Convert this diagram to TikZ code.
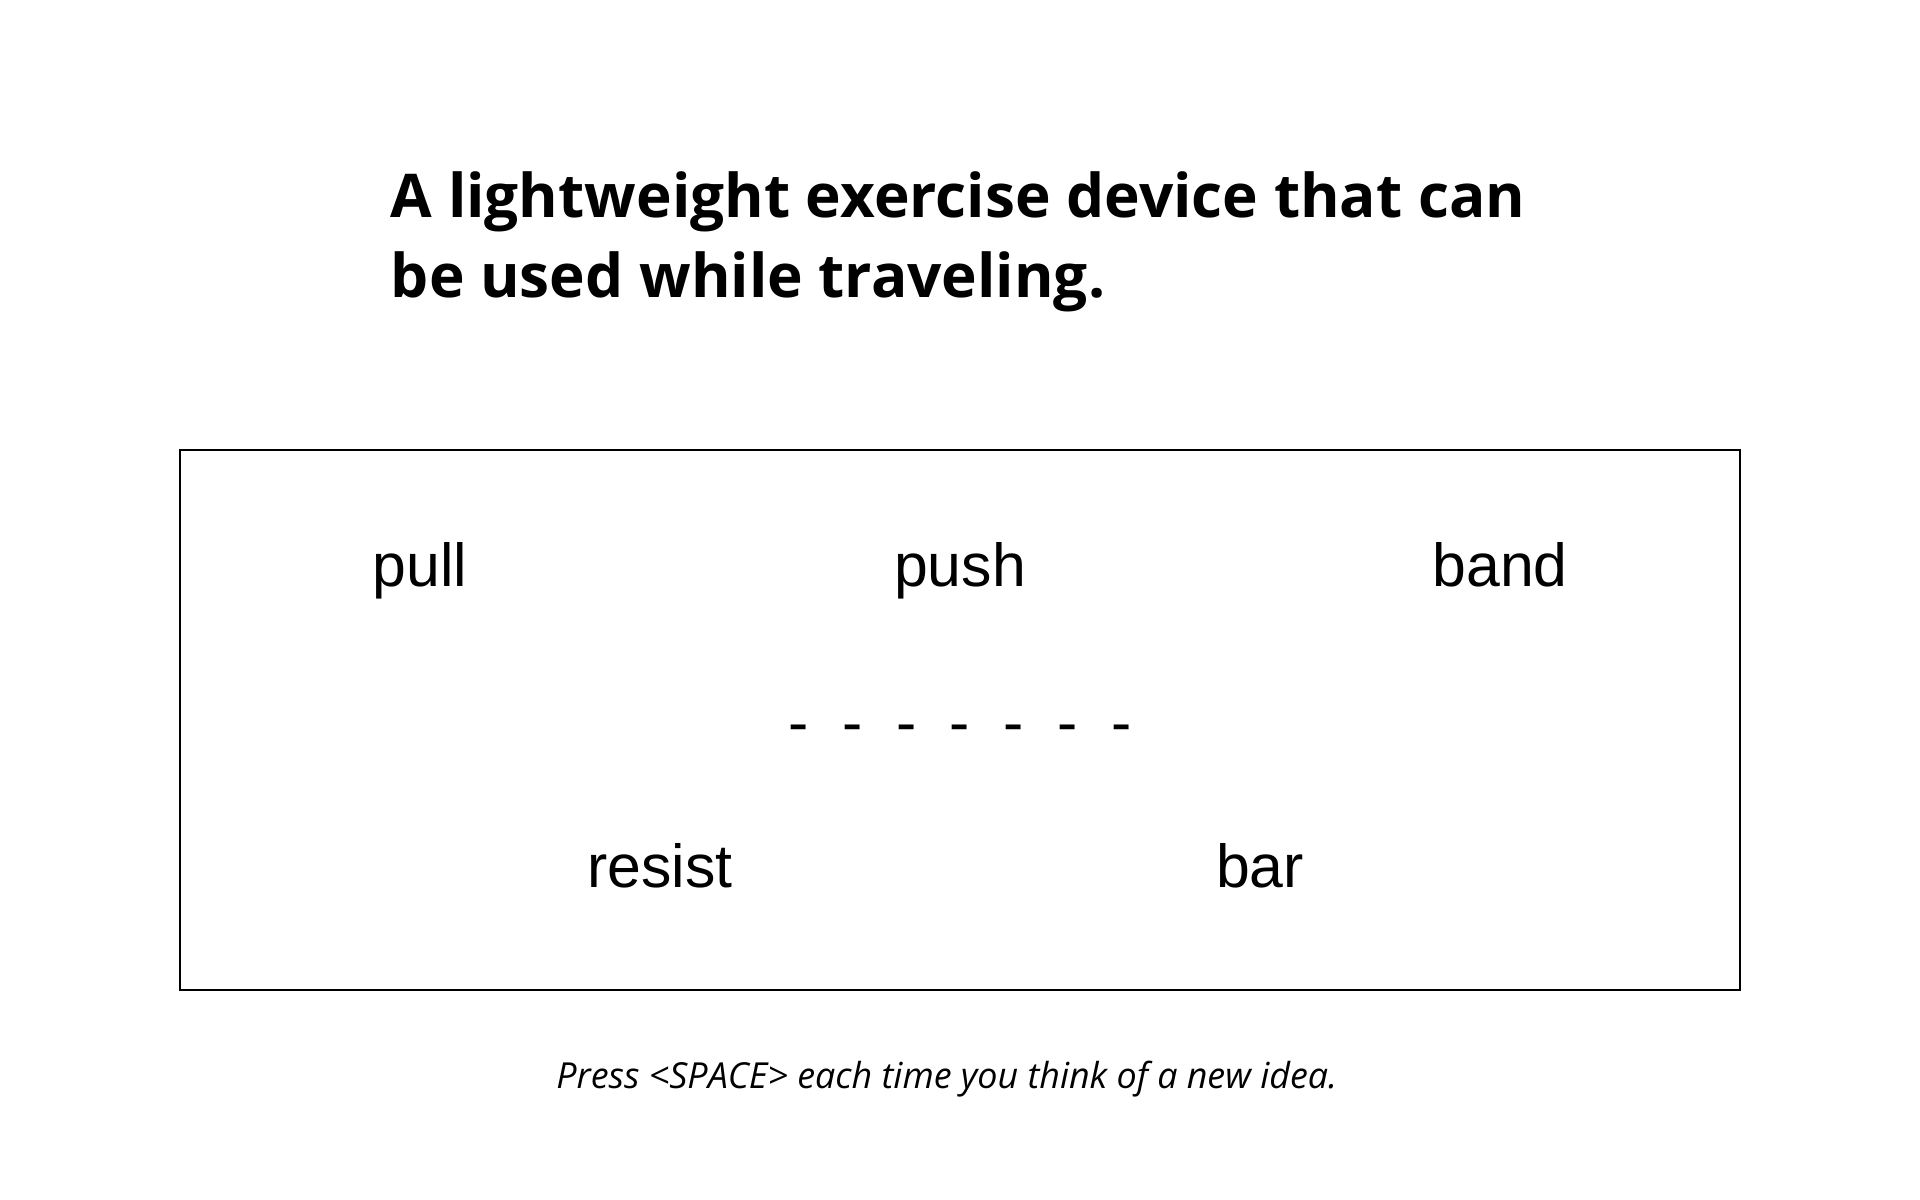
\documentclass[tikz,border=0pt]{standalone}
\usepackage{fontspec}
\usepackage{tikz}
\usetikzlibrary{positioning}
\newfontfamily\wordfont{Liberation Sans}
\newfontfamily\promptfont{Open Sans}
\newcommand{\dashgap}{\hspace{0.28cm}}
\tikzstyle{title} = [anchor=base west, inner sep=0pt, font=\promptfont\bfseries\fontsize{14.3}{19}\selectfont]
\tikzstyle{word} = [anchor=base, inner sep=0pt, font=\wordfont\fontsize{14.4}{17}\selectfont]
\tikzstyle{hint} = [anchor=base, inner sep=0pt, font=\promptfont\itshape\fontsize{8.5}{11}\selectfont]
\tikzstyle{board} = [rectangle, draw=black, line width=0.5pt, minimum width=13cm, minimum height=4.5cm, inner sep=0pt]
\begin{document}
\begin{tikzpicture}
\useasboundingbox (0,0) rectangle (16,10);
\node (titleA) [title] at (3.25,8.19) {A lightweight exercise device that can};
\node (titleB) [title] at ([yshift=-0.672cm]titleA.base west) {be used while traveling.};
\node (board) [board] at (8,4) {};
% ideas typed so far
\node (pull) [word] at (3.5,5.11) {pull};
\node (push) [word] at (8,5.11) {push};
\node (band) [word] at (12.5,5.11) {band};
\node (dashes) [word] at (8,3.80) {-\dashgap-\dashgap-\dashgap-\dashgap-\dashgap-\dashgap-};
\node (resist) [word] at (5.5,2.6) {resist};
\node (bar) [word] at (10.5,2.6) {bar};
\node (hint) [hint] at (7.89,0.93) {Press <SPACE> each time you think of a new idea.};
\end{tikzpicture}
\end{document}
